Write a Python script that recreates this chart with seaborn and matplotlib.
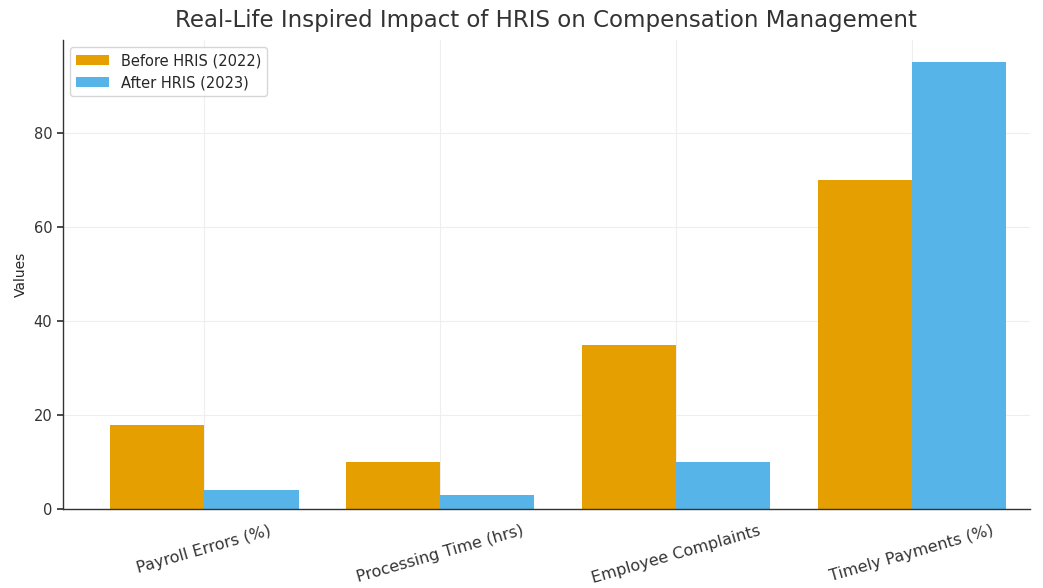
import pandas as pd
import seaborn as sns
import matplotlib.pyplot as plt

# data
categories = ["Payroll Errors (%)", "Processing Time (hrs)", "Employee Complaints", "Timely Payments (%)"]
before_hris = [18, 10, 35, 70]
after_hris = [4, 3, 10, 95]

df = pd.DataFrame({"metric": categories, "Before HRIS (2022)": before_hris, "After HRIS (2023)": after_hris})
df_long = pd.melt(df, id_vars=["metric"], var_name="period", value_name="value")

sns.set_theme(style="whitegrid")
plt.rcParams["font.family"] = ["DejaVu Sans"]

fig, ax = plt.subplots(figsize=(10.43, 5.88), dpi=100)
sns.barplot(data=df_long, x="metric", y="value", hue="period",
            palette=["#E69F00", "#56B4E9"], width=0.8, saturation=1,
            linewidth=0, edgecolor="none", ax=ax)

ax.set_title("Real-Life Inspired Impact of HRIS on Compensation Management",
             fontsize=16.5, color="#333333", pad=9)
ax.set_xlabel("")
ax.set_ylabel("Values", fontsize=10)
ax.set_xlim(-0.6, 3.5)
ax.set_yticks([0, 20, 40, 60, 80])
ax.tick_params(axis="x", rotation=16, labelsize=11.5, colors="#333333", pad=4)
ax.tick_params(axis="y", labelsize=10.5, left=True, length=4, colors="#333333")
ax.grid(True, color="#eeeeee", linewidth=0.8)
for s in ["top", "right"]:
    ax.spines[s].set_visible(False)
for s in ["left", "bottom"]:
    ax.spines[s].set_color("#333333")
    ax.spines[s].set_linewidth(1.0)

ax.legend(title=None, loc="upper left", fontsize=10.5, handlelength=2.3)

fig.subplots_adjust(left=0.06, right=0.9875, top=0.932, bottom=0.134)
fig.savefig("out.png", dpi=100)
